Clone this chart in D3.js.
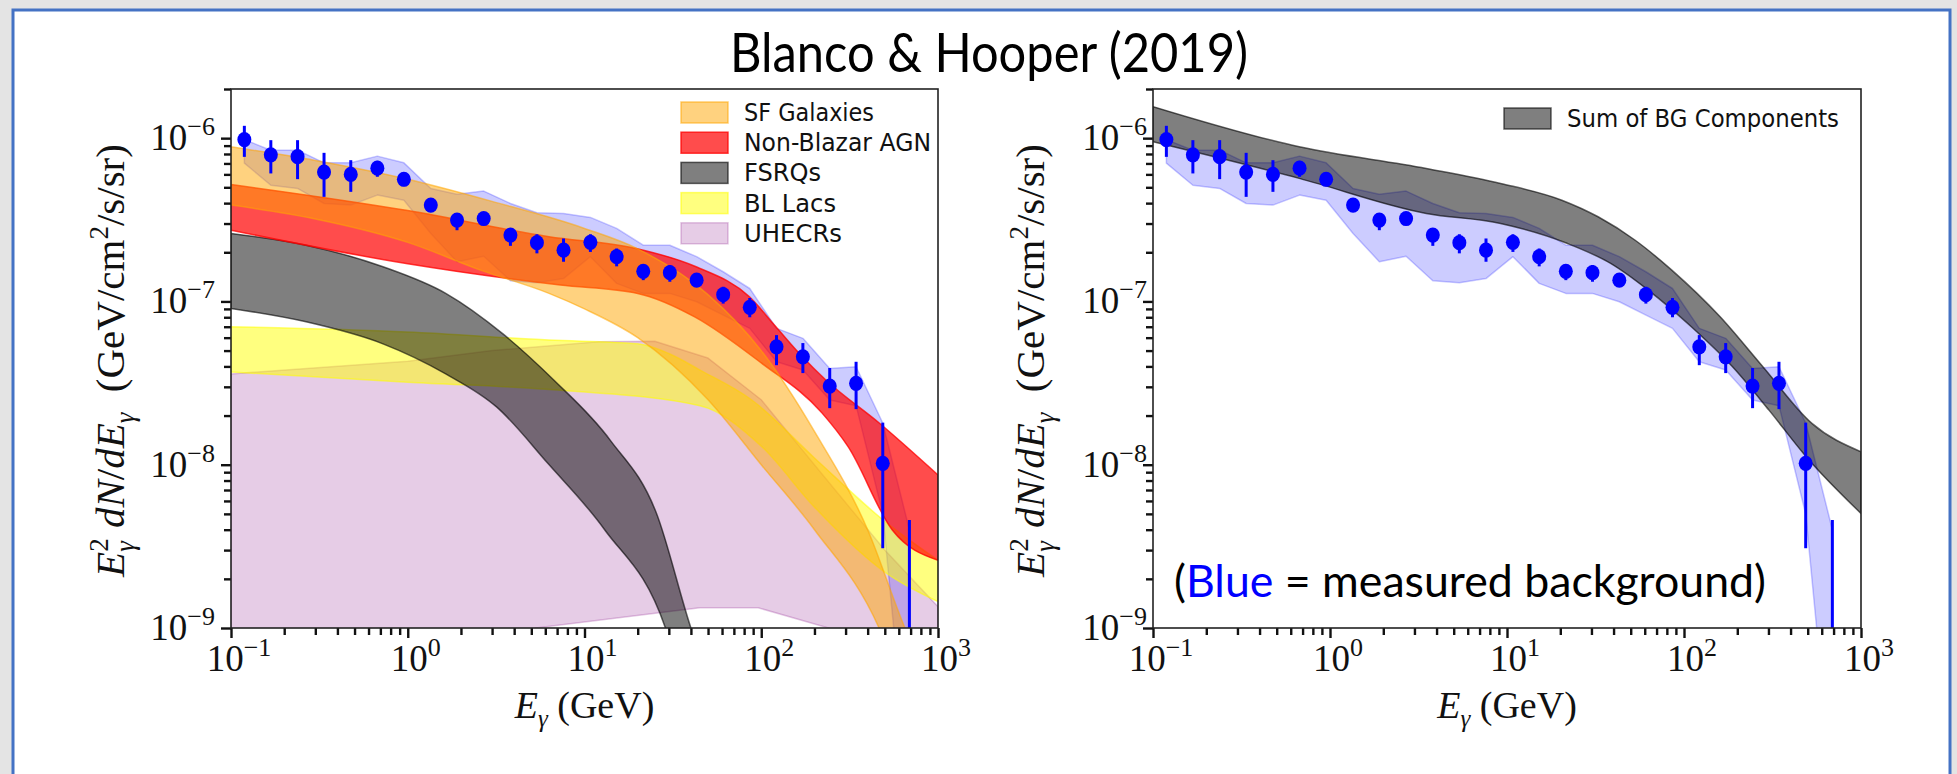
<!DOCTYPE html>
<html>
<head>
<meta charset="utf-8">
<script src="https://cdn.jsdelivr.net/npm/d3@7"></script>
<style>
  body { margin: 0; background: #fff; }
  svg { display: block; }
</style>
</head>
<body>
<svg id="chart" width="1957" height="774"></svg>
<script>
// measured spectrum: bin centres (GeV), E^2 dN/dE (GeV/cm^2/s/sr)
const energy = [0.119, 0.168, 0.238, 0.336, 0.476, 0.673, 0.951, 1.35, 1.90, 2.69, 3.81, 5.38, 7.61,
  10.8, 15.2, 21.5, 30.4, 43.1, 60.9, 86.1, 122, 172, 244, 344, 487, 689];
const flux = [9.8e-7, 7.9e-7, 7.7e-7, 6.2e-7, 6.0e-7, 6.55e-7, 5.6e-7, 3.89e-7, 3.15e-7, 3.22e-7, 2.55e-7, 2.29e-7, 2.06e-7,
  2.3e-7, 1.88e-7, 1.53e-7, 1.5e-7, 1.35e-7, 1.10e-7, 9.2e-8, 5.27e-8, 4.58e-8, 3.03e-8, 3.15e-8, 1.02e-8, 4e-10];
const fluxHi = [1.19e-6, 9.72e-7, 9.72e-7, 8.13e-7, 7.33e-7, 7.26e-7, 6.08e-7, 4.05e-7, 3.46e-7, 3.35e-7, 2.8e-7, 2.58e-7, 2.43e-7,
  2.58e-7, 2.11e-7, 1.67e-7, 1.67e-7, 1.42e-7, 1.23e-7, 1.05e-7, 6.22e-8, 5.56e-8, 3.91e-8, 4.27e-8, 1.81e-8, 4.58e-9];
const fluxLo = [7.68e-7, 6.08e-7, 5.61e-7, 4.37e-7, 4.69e-7, 5.8e-7, 5.08e-7, 3.75e-7, 2.73e-7, 3.1e-7, 2.19e-7, 1.97e-7, 1.75e-7,
  2.01e-7, 1.64e-7, 1.35e-7, 1.32e-7, 1.28e-7, 9.7e-8, 8.0e-8, 4.07e-8, 3.64e-8, 2.22e-8, 2.19e-8, 3.08e-9, 1e-10];
// systematic band of the measurement
const sysHi = [9.8e-7, 8.44e-7, 8.44e-7, 7.06e-7, 7.06e-7, 7.76e-7, 7.06e-7, 4.92e-7, 4.54e-7, 4.74e-7, 3.98e-7, 3.49e-7, 3.46e-7,
  3.27e-7, 2.8e-7, 2.21e-7, 2.21e-7, 1.88e-7, 1.52e-7, 1.2e-7, 6.84e-8, 5.94e-8, 3.89e-8, 3.98e-8, 1.8e-8, 4e-9];
const sysLo = [7.03e-7, 5.15e-7, 4.92e-7, 3.98e-7, 3.89e-7, 4.48e-7, 4.17e-7, 2.61e-7, 1.75e-7, 1.89e-7, 1.34e-7, 1.30e-7, 1.38e-7,
  1.88e-7, 1.29e-7, 1.12e-7, 1.12e-7, 9.95e-8, 8.25e-8, 6.84e-8, 4.27e-8, 3.8e-8, 2.49e-8, 2.3e-8, 5e-9, 1e-10];

// model components (upper / lower edge, each on its own energy grid)
const sfHiE = [0.1, 0.3, 1, 3, 10, 20, 50, 100, 200, 400, 650, 800];
const sfHi = [8.85e-7, 7.3e-7, 5.6e-7, 4.1e-7, 2.8e-7, 2.1e-7, 1.1e-7, 5e-8, 1.6e-8, 4e-9, 1e-9, 6e-10];
const sfLoE = [0.1, 0.3, 1, 2.6, 6.3, 10, 20, 50, 100, 200, 464, 600];
const sfLo = [3.89e-7, 3.2e-7, 2.3e-7, 1.55e-7, 1.12e-7, 9e-8, 6e-8, 2.5e-8, 1e-8, 4e-9, 1e-9, 5e-10];

const agnHiE = [0.1, 1, 6.3, 19.6, 42.8, 85.5, 121, 171, 232, 465, 1000];
const agnHi = [5.2e-7, 3.6e-7, 2.49e-7, 2.11e-7, 1.63e-7, 1.07e-7, 7.0e-8, 4.58e-8, 3.3e-8, 1.8e-8, 8.65e-9];
const agnLoE = [0.1, 1, 7.3, 20, 42, 100, 221, 310, 550, 1000];
const agnLo = [2.73e-7, 1.7e-7, 1.26e-7, 1.12e-7, 8.05e-8, 4.2e-8, 2.07e-8, 1.29e-8, 4e-9, 2.6e-9];

const fsrqHiE = [0.1, 0.266, 0.724, 1.64, 3.47, 6.7, 14, 25.5, 40, 50];
const fsrqHi = [2.61e-7, 2.21e-7, 1.63e-7, 1.12e-7, 6.3e-8, 3.3e-8, 1.41e-8, 5.06e-9, 1e-9, 5e-10];
const fsrqLoE = [0.1, 0.266, 0.724, 1.64, 3.18, 6.2, 13, 28.7, 35];
const fsrqLo = [9.06e-8, 7.5e-8, 5.5e-8, 3.6e-8, 2.26e-8, 1.02e-8, 4e-9, 1e-9, 5e-10];

const blHiE = [0.1, 1, 6.3, 20, 30, 45, 88, 200, 500, 1000];
const blHi = [7.0e-8, 6.5e-8, 5.8e-8, 5.5e-8, 4.8e-8, 3.8e-8, 2.5e-8, 1.1e-8, 4.5e-9, 2.6e-9];
const blLoE = [0.1, 1, 7.3, 45, 100, 200, 500, 1000];
const blLo = [3.7e-8, 3.2e-8, 2.86e-8, 2.3e-8, 1.3e-8, 5.5e-9, 2.2e-9, 1.45e-9];

const crHiE = [0.1, 1, 3, 12, 25, 50, 100, 200, 500, 1000];
const crHi = [3.6e-8, 4.3e-8, 5e-8, 5.66e-8, 5.7e-8, 4.5e-8, 2.5e-8, 1e-8, 3e-9, 1.35e-9];
const crLoE = [0.1, 1, 5.3, 45, 96, 240, 1000];
const crLo = [1e-10, 3e-10, 1e-9, 1.33e-9, 1.33e-9, 1e-9, 4e-10];

const sumHiE = [0.1, 0.67, 3.5, 9.2, 20.4, 32.7, 53, 85, 160, 279, 528, 1000];
const sumHi = [1.56e-6, 8.85e-7, 6.52e-7, 5.28e-7, 4.17e-7, 3.3e-7, 2.37e-7, 1.56e-7, 8.05e-8, 3.98e-8, 1.79e-8, 1.2e-8];
const sumLoE = [0.1, 0.67, 3.5, 9.2, 21.8, 38.5, 63, 110, 188, 302, 490, 1000];
const sumLo = [9.5e-7, 5.67e-7, 3.46e-7, 3.0e-7, 2.27e-7, 1.71e-7, 1.17e-7, 7.0e-8, 3.98e-8, 2.16e-8, 1.12e-8, 5.03e-9];

const xMajor = [0.1, 1, 10, 100, 1000];
const xMajorExp = ["\u22121", "0", "1", "2", "3"];
const yMajor = [1e-9, 1e-8, 1e-7, 1e-6];
const yMajorExp = ["\u22129", "\u22128", "\u22127", "\u22126"];
const legendLeft = ["SF Galaxies", "Non-Blazar AGN", "FSRQs", "BL Lacs", "UHECRs"];
const legendRight = ["Sum of BG Components"];

const serif = "'Liberation Serif', 'DejaVu Serif', serif";
const sans = "'DejaVu Sans', sans-serif";
const slideFont = "Lato, 'Open Sans', sans-serif";

const svg = d3.select("#chart");

// slide background + frame
svg.append("rect").attr("width", 1957).attr("height", 774).attr("fill", "#e4e4e4");
svg.append("rect").attr("x", 13).attr("y", 10).attr("width", 1937).attr("height", 800)
  .attr("fill", "#fff").attr("stroke", "#4472c4").attr("stroke-width", 3);

svg.append("text").attr("x", 989).attr("y", 72).attr("text-anchor", "middle")
  .attr("font-family", slideFont).attr("font-size", 54)
  .attr("textLength", 518).attr("lengthAdjust", "spacingAndGlyphs")
  .text("Blanco & Hooper (2019)");

// text made of pieces (italic, sub/superscripts)
function mathText(parent, parts, px, py, anchor, rot) {
  const outer = parent.append("g").attr("transform", `translate(${px},${py}) rotate(${rot || 0})`);
  const g = outer.append("g");
  let x = 0, lastStart = 0;
  parts.forEach(p => {
    const start = p.back ? lastStart : x;
    const t = g.append("text")
      .attr("x", start).attr("y", p.dy || 0)
      .attr("font-family", p.font || serif)
      .attr("font-size", p.size)
      .attr("font-style", p.it ? "italic" : "normal")
      .attr("fill", "#111")
      .style("white-space", "pre")
      .text(p.t);
    const w = t.node().getComputedTextLength();
    x = Math.max(x, start + w);
    lastStart = start;
  });
  const shift = anchor === "middle" ? -x / 2 : anchor === "end" ? -x : 0;
  g.attr("transform", `translate(${shift},0)`);
  return x;
}

// closed outline: upper edge left to right, then lower edge back
function band(hiE, hi, loE, lo) {
  return hiE.map((e, i) => [e, hi[i]]).concat(loE.map((e, i) => [e, lo[i]]).reverse());
}

function drawPanel(cfg) {
  const x = d3.scaleLog().domain([0.1, 1000]).range([cfg.left, cfg.right]);
  const y = d3.scaleLog().domain([1e-9, 2e-6]).range([cfg.bottom, cfg.top]);
  const clipId = "clip" + cfg.id;
  svg.append("clipPath").attr("id", clipId).append("rect")
    .attr("x", cfg.left).attr("y", cfg.top)
    .attr("width", cfg.right - cfg.left).attr("height", cfg.bottom - cfg.top);

  const plot = svg.append("g").attr("clip-path", `url(#${clipId})`);
  const line = d3.line().x(d => x(d[0])).y(d => y(d[1])).curve(d3.curveMonotoneX);
  const straight = d3.line().x(d => x(d[0])).y(d => y(d[1]));

  cfg.bands.forEach(b => {
    const hiPts = b.hiE.map((e, i) => [e, b.hi[i]]);
    const loPts = b.loE.map((e, i) => [e, b.lo[i]]);
    let d;
    if (b.jagged) {
      d = straight(band(b.hiE, b.hi, b.loE, b.lo)) + "Z";
    } else {
      // smooth edges: upper edge, then lower edge walked backwards
      const up = line(hiPts);
      const lowRev = line(loPts.slice().reverse());
      d = up + "L" + lowRev.slice(1) + "Z";
    }
    plot.append("path")
      .attr("d", d)
      .attr("fill", b.fill).attr("stroke", b.edge).attr("stroke-width", 1.5)
      .attr("stroke-linejoin", "round");
  });

  // error bars + markers
  const pts = energy.map((e, i) => ({ e, v: flux[i], hi: fluxHi[i], lo: fluxLo[i] }));
  plot.selectAll(".err").data(pts).join("line")
    .attr("x1", d => x(d.e)).attr("x2", d => x(d.e))
    .attr("y1", d => y(d.hi)).attr("y2", d => y(d.lo))
    .attr("stroke", "#0000ff").attr("stroke-width", 3);
  plot.selectAll(".dot").data(pts).join("ellipse")
    .attr("cx", d => x(d.e)).attr("cy", d => y(d.v))
    .attr("rx", 7).attr("ry", 7.6).attr("fill", "#0000ff");

  // axes
  const minorX = [];
  [0.1, 1, 10, 100].forEach(d => { for (let k = 1; k < 10; k++) minorX.push(d * k); });
  minorX.push(1000);
  const minorY = [];
  [1e-9, 1e-8, 1e-7, 1e-6].forEach(d => { for (let k = 1; k < 10; k++) if (d * k <= 2e-6) minorY.push(d * k); });

  const xAxis = svg.append("g").attr("transform", `translate(0,${cfg.bottom})`)
    .call(d3.axisBottom(x).tickValues(minorX).tickSize(7).tickFormat(""));
  const yAxis = svg.append("g").attr("transform", `translate(${cfg.left},0)`)
    .call(d3.axisLeft(y).tickValues(minorY).tickSize(7).tickFormat(""));
  [xAxis, yAxis].forEach(a => {
    a.select(".domain").remove();
    a.selectAll(".tick line").attr("stroke", "#111").attr("stroke-width", 2.4);
  });
  xAxis.selectAll(".tick line").filter(d => xMajor.some(m => Math.abs(m - d) / m < 1e-6)).attr("y2", 10);
  yAxis.selectAll(".tick line").filter(d => yMajor.some(m => Math.abs(m - d) / m < 1e-6)).attr("x2", -10);

  svg.append("rect")
    .attr("x", cfg.left).attr("y", cfg.top)
    .attr("width", cfg.right - cfg.left).attr("height", cfg.bottom - cfg.top)
    .attr("fill", "none").attr("stroke", "#222").attr("stroke-width", 1.6);

  xMajor.forEach((m, i) => {
    mathText(svg, [{ t: "10", size: 37 }, { t: xMajorExp[i], size: 26, dy: -15 }],
      x(m) + 8, cfg.bottom + 43, "middle");
  });
  yMajor.forEach((m, i) => {
    mathText(svg, [{ t: "10", size: 37 }, { t: yMajorExp[i], size: 26, dy: -15 }],
      cfg.left - cfg.labelGap, y(m) + 12, "end");
  });

  // axis titles
  mathText(svg, [
    { t: "E", it: true, size: 38 }, { t: "\u03b3", it: true, size: 25, dy: 9 },
    { t: " (GeV)", size: 38 }
  ], (cfg.left + cfg.right) / 2, cfg.bottom + 90, "middle");
  mathText(svg, [
    { t: "E", it: true, size: 41 }, { t: "2", size: 27, dy: -16 }, { t: "\u03b3", it: true, size: 27, dy: 10, back: true },
    { t: " dN", it: true, size: 41 }, { t: "/", size: 41 }, { t: "dE", it: true, size: 41 },
    { t: "\u03b3", it: true, size: 27, dy: 10 },
    { t: "  (GeV/cm", size: 41 }, { t: "2", size: 27, dy: -16 }, { t: "/s/sr)", size: 41 }
  ], cfg.yLabelX, (cfg.top + cfg.bottom) / 2 + 2, "middle", -90);

  // legend
  cfg.legend.forEach((item, i) => {
    const ly = cfg.legendTop + i * 30.2;
    svg.append("rect").attr("x", cfg.legendX).attr("y", ly)
      .attr("width", 47).attr("height", 21)
      .attr("fill", item.fill).attr("stroke", item.edge).attr("stroke-width", 1.5);
    svg.append("text").attr("x", cfg.legendX + 63).attr("y", ly + 19)
      .attr("font-family", sans).attr("font-size", 25).attr("fill", "#111")
      .attr("textLength", item.w).attr("lengthAdjust", "spacingAndGlyphs")
      .text(item.name);
  });
  return { x, y };
}

const blueBand = { hiE: energy, hi: sysHi, loE: energy, lo: sysLo, jagged: true,
  fill: "rgba(0,0,255,0.2)", edge: "rgba(0,0,255,0.22)" };
const colSF = { fill: "rgba(255,165,0,0.5)", edge: "rgba(255,165,0,0.55)" };
const colAGN = { fill: "rgba(255,0,0,0.7)", edge: "rgba(255,0,0,0.75)" };
const colFSRQ = { fill: "rgba(0,0,0,0.5)", edge: "rgba(0,0,0,0.6)" };
const colBL = { fill: "rgba(255,255,0,0.5)", edge: "rgba(255,255,0,0.55)" };
const colCR = { fill: "rgba(128,0,128,0.2)", edge: "rgba(128,0,128,0.22)" };

drawPanel({
  id: "L", left: 231, right: 938, top: 89, bottom: 628, labelGap: 16, yLabelX: 124,
  bands: [
    blueBand,
    Object.assign({ hiE: crHiE, hi: crHi, loE: crLoE, lo: crLo, jagged: true }, colCR),
    Object.assign({ hiE: blHiE, hi: blHi, loE: blLoE, lo: blLo }, colBL),
    Object.assign({ hiE: fsrqHiE, hi: fsrqHi, loE: fsrqLoE, lo: fsrqLo }, colFSRQ),
    Object.assign({ hiE: agnHiE, hi: agnHi, loE: agnLoE, lo: agnLo }, colAGN),
    Object.assign({ hiE: sfHiE, hi: sfHi, loE: sfLoE, lo: sfLo }, colSF)
  ],
  legendX: 681, legendTop: 102,
  legend: [
    Object.assign({ name: legendLeft[0], w: 130 }, colSF),
    Object.assign({ name: legendLeft[1], w: 187 }, colAGN),
    Object.assign({ name: legendLeft[2], w: 77 }, colFSRQ),
    Object.assign({ name: legendLeft[3], w: 92 }, colBL),
    Object.assign({ name: legendLeft[4], w: 98 }, colCR)
  ]
});

drawPanel({
  id: "R", left: 1153, right: 1861, top: 89, bottom: 628, labelGap: 6, yLabelX: 1044,
  bands: [
    blueBand,
    Object.assign({ hiE: sumHiE, hi: sumHi, loE: sumLoE, lo: sumLo }, colFSRQ)
  ],
  legendX: 1504, legendTop: 108,
  legend: [Object.assign({ name: legendRight[0], w: 272 }, colFSRQ)]
});

const note = svg.append("text").attr("x", 1174).attr("y", 597)
  .attr("font-family", slideFont).attr("font-size", 45).attr("fill", "#000")
  .attr("textLength", 592).attr("lengthAdjust", "spacingAndGlyphs");
note.append("tspan").text("(");
note.append("tspan").attr("fill", "#0000ff").text("Blue");
note.append("tspan").text(" = measured background)");
</script>
</body>
</html>
